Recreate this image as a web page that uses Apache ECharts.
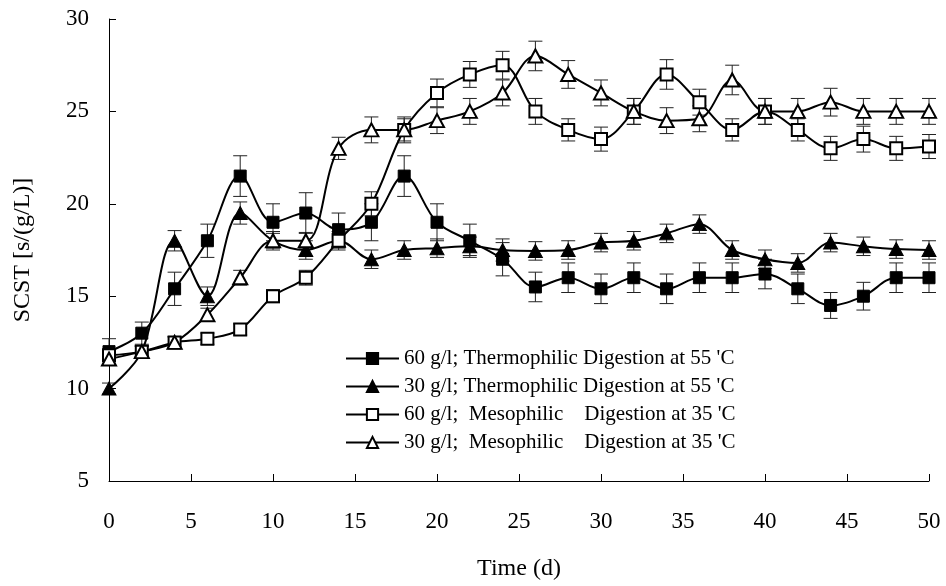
<!DOCTYPE html>
<html>
<head>
<meta charset="utf-8">
<script src="https://cdn.jsdelivr.net/npm/echarts@6/dist/echarts.min.js"></script>
<style>
html, body { margin: 0; padding: 0; background: #fff; }
#main { width: 946px; height: 586px; }
</style>
</head>
<body>
<div id="main"></div>
<script>
// sampling days
var days = [0, 2, 4, 6, 8, 10, 12, 14, 16, 18, 20, 22, 24, 26, 28, 30, 32, 34, 36, 38, 40, 42, 44, 46, 48, 50];

// 60 g/l thermophilic (filled square)
var sq60T = [12, 13, 15.4, 18, 21.5, 19, 19.5, 18.6, 19, 21.5, 19, 18, 17, 15.5, 16, 15.4, 16, 15.4, 16, 16, 16.2, 15.4, 14.5, 15, 16, 16];
var err60T = [0.7, 0.6, 0.9, 0.9, 1.1, 1.0, 1.1, 0.9, 1.0, 1.1, 1.0, 0.9, 0.9, 0.8, 0.8, 0.8, 0.8, 0.8, 0.8, 0.8, 0.8, 0.8, 0.7, 0.75, 0.8, 0.8];

// 30 g/l thermophilic (filled triangle)
var tr30T = [10, 12, 18, 15, 19.5, 18, 17.5, 18, 17, 17.5, 17.6, 17.7, 17.5, 17.45, 17.5, 17.9, 18, 18.4, 18.9, 17.5, 17, 16.8, 17.9, 17.7, 17.55, 17.5];
var err30T = [0.3, 0.3, 0.55, 0.5, 0.6, 0.5, 0.5, 0.5, 0.5, 0.5, 0.5, 0.5, 0.6, 0.5, 0.5, 0.5, 0.5, 0.5, 0.5, 0.5, 0.5, 0.5, 0.5, 0.5, 0.5, 0.5];

// 60 g/l mesophilic (open square)
var sq60M = [11.8, 12, 12.5, 12.7, 13.2, 15, 16, 18, 20, 24, 26, 27, 27.5, 25, 24, 23.5, 25, 27, 25.5, 24, 25, 24, 23, 23.5, 23, 23.1];
var err60M = [0.3, 0.3, 0.3, 0.3, 0.3, 0.35, 0.4, 0.4, 0.65, 0.6, 0.75, 0.7, 0.75, 0.7, 0.6, 0.65, 0.7, 0.8, 0.7, 0.6, 0.7, 0.6, 0.65, 0.7, 0.65, 0.65];

// 30 g/l mesophilic (open triangle)
var tr30M = [11.6, 12, 12.5, 14, 16, 18, 18, 23, 24, 24, 24.5, 25, 26, 28, 27, 26, 25, 24.5, 24.6, 26.7, 25, 25, 25.5, 25, 25, 25];
var err30M = [0.3, 0.3, 0.3, 0.35, 0.4, 0.4, 0.45, 0.6, 0.7, 0.7, 0.7, 0.7, 0.7, 0.8, 0.75, 0.7, 0.7, 0.7, 0.7, 0.8, 0.7, 0.7, 0.75, 0.7, 0.7, 0.7];

var names = [
	"60 g/l; Thermophilic Digestion at 55 'C",
	"30 g/l; Thermophilic Digestion at 55 'C",
	"60 g/l;  Mesophilic    Digestion at 35 'C",
	"30 g/l;  Mesophilic    Digestion at 35 'C"
];

var serifFont = '"Liberation Serif", "Times New Roman", serif';

var toPoints = function(vals) {
	var out = [];
	for (var i = 0; i < days.length; i++) {
		out.push([days[i], vals[i]]);
	}
	return out;
};

var toBars = function(vals, errs) {
	var out = [];
	for (var i = 0; i < days.length; i++) {
		out.push([days[i], vals[i] - errs[i], vals[i] + errs[i]]);
	}
	return out;
};

function renderErrorBar(params, api) {
	var x = api.value(0);
	var hi = api.coord([x, api.value(2)]);
	var lo = api.coord([x, api.value(1)]);
	var half = 7;
	var style = { stroke: '#222', lineWidth: 1 };
	return {
		type: 'group',
		children: [
			{ type: 'line', shape: { x1: hi[0], y1: hi[1], x2: lo[0], y2: lo[1] }, style: style },
			{ type: 'line', shape: { x1: hi[0] - half, y1: hi[1], x2: hi[0] + half, y2: hi[1] }, style: style },
			{ type: 'line', shape: { x1: lo[0] - half, y1: lo[1], x2: lo[0] + half, y2: lo[1] }, style: style }
		]
	};
}

var lineSeries = function(name, vals, symbol, size, filled) {
	return {
		name: name,
		type: 'line',
		data: toPoints(vals),
		smooth: 0.35,
		symbol: symbol,
		symbolSize: size,
		z: 3,
		lineStyle: { color: '#000', width: 2 },
		itemStyle: {
			color: filled ? '#000' : '#fff',
			borderColor: '#000',
			borderWidth: filled ? 1 : 2
		}
	};
};

var barSeries = function(vals, errs) {
	return {
		type: 'custom',
		name: 'err',
		renderItem: renderErrorBar,
		data: toBars(vals, errs),
		encode: { x: 0, y: [1, 2] },
		z: 1,
		silent: true
	};
};

var chart = echarts.init(document.getElementById('main'));
var option = {
	animation: false,
	backgroundColor: '#fff',
	textStyle: { fontFamily: serifFont, color: '#000' },
	grid: { left: 109, right: 17, top: 19, bottom: 105, containLabel: false },
	legend: {
		orient: 'vertical',
		left: 340,
		top: 343,
		itemWidth: 53,
		itemHeight: 14,
		itemGap: 7,
		data: names,
		textStyle: { fontFamily: serifFont, fontSize: 21, color: '#000' }
	},
	xAxis: {
		type: 'value',
		min: 0,
		max: 50,
		interval: 5,
		name: 'Time (d)',
		nameLocation: 'middle',
		nameGap: 76,
		nameTextStyle: { fontFamily: serifFont, fontSize: 24, color: '#000' },
		axisLine: { lineStyle: { color: '#000', width: 1 } },
		axisTick: { inside: true, length: 7, lineStyle: { color: '#000' } },
		axisLabel: { fontFamily: serifFont, fontSize: 23, color: '#000', margin: 29 },
		splitLine: { show: false }
	},
	yAxis: {
		type: 'value',
		min: 5,
		max: 30,
		interval: 5,
		name: 'SCST [s/(g/L)]',
		nameLocation: 'middle',
		nameGap: 74,
		nameTextStyle: { fontFamily: serifFont, fontSize: 24, color: '#000' },
		axisLine: { show: true, lineStyle: { color: '#000', width: 1 } },
		axisTick: { show: true, inside: true, length: 7, lineStyle: { color: '#000' } },
		axisLabel: { fontFamily: serifFont, fontSize: 23, color: '#000', margin: 20 },
		splitLine: { show: false }
	},
	series: [
		barSeries(sq60T, err60T),
		barSeries(tr30T, err30T),
		barSeries(sq60M, err60M),
		barSeries(tr30M, err30M),
		lineSeries(names[0], sq60T, 'rect', 12, true),
		lineSeries(names[1], tr30T, 'triangle', [14, 13], true),
		lineSeries(names[2], sq60M, 'rect', 12, false),
		lineSeries(names[3], tr30M, 'triangle', [14, 13], false)
	]
};
chart.setOption(option);
</script>
</body>
</html>
